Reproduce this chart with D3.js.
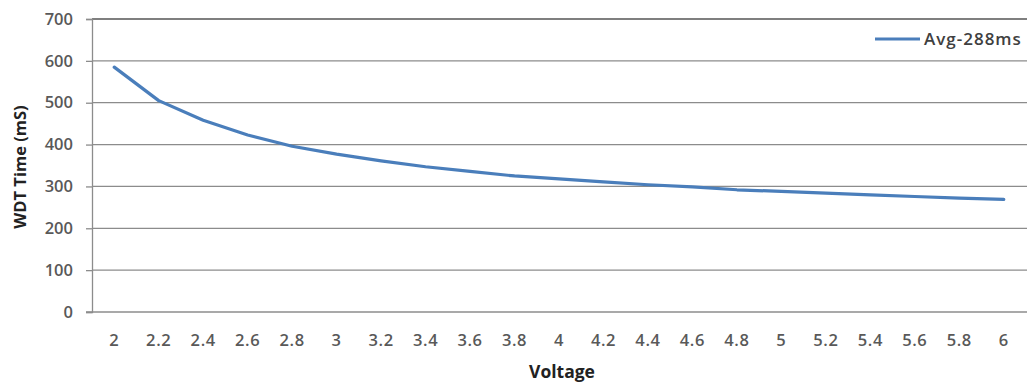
<!DOCTYPE html>
<html><head><meta charset="utf-8">
<script src="https://cdn.jsdelivr.net/npm/d3@7"></script>
<style>
html,body{margin:0;padding:0;background:#fff;}
svg{display:block;font-family:"Open Sans",sans-serif;}
</style></head><body>
<svg id="c" width="1027" height="383"></svg>
<script>
const categories = ["2","2.2","2.4","2.6","2.8","3","3.2","3.4","3.6","3.8","4","4.2","4.4","4.6","4.8","5","5.2","5.4","5.6","5.8","6"];
const avgValues = [585,505,458,423,396,377,361,347,336,325,318,311,304,299,292,288,284,280,276,272,269];
const yTicks = [0,100,200,300,400,500,600,700];
const seriesName = "Avg-288ms";
const xTitle = "Voltage";
const yTitle = "WDT Time (mS)";

const svg = d3.select("#c");
const plotLeft = 92, plotRight = 1026, plotTop = 19, plotBottom = 312;

const x = d3.scaleBand().domain(categories).range([plotLeft, plotRight]);
const y = d3.scaleLinear().domain([0, 700]).range([plotBottom, plotTop]);

// gridlines
svg.append("g").selectAll("line").data(yTicks.filter(d => d > 0)).join("line")
  .attr("x1", plotLeft).attr("x2", 1027)
  .attr("y1", d => y(d)).attr("y2", d => y(d))
  .attr("stroke", d => d === 700 ? "#7f7f7f" : "#8c8c8c").attr("stroke-width", d => d === 700 ? 1.8 : 1.3);

// y axis
const yAxis = svg.append("g").attr("transform", `translate(${plotLeft},0)`)
  .call(d3.axisLeft(y).tickValues(yTicks).tickSize(6).tickPadding(13));
yAxis.select(".domain").attr("stroke", "#8c8c8c").attr("stroke-width", 1.3);
yAxis.selectAll(".tick line").attr("stroke", "#8c8c8c").attr("stroke-width", 1.3);
yAxis.selectAll("text").attr("fill", "#595959").attr("font-size", 16.5).attr("font-weight", 600)
  .attr("font-family", "Open Sans");

// x axis
const xAxis = svg.append("g").attr("transform", `translate(0,${plotBottom})`)
  .call(d3.axisBottom(x).tickSize(0).tickPadding(22));
xAxis.select(".domain").attr("stroke", "#8c8c8c").attr("stroke-width", 1.3)
  .attr("d", `M${plotLeft - 6},0H1027`);
xAxis.selectAll("text").attr("fill", "#595959").attr("font-size", 16.5).attr("font-weight", 600)
  .attr("letter-spacing", 0.6).attr("font-family", "Open Sans");

// line
const line = d3.line().x((d, i) => x(categories[i]) + x.bandwidth() / 2).y(d => y(d));
svg.append("path").datum(avgValues).attr("d", line)
  .attr("fill", "none").attr("stroke", "#4a7ebb").attr("stroke-width", 3.2)
  .attr("stroke-linejoin", "round").attr("stroke-linecap", "round");

// legend
svg.append("line").attr("x1", 875).attr("x2", 920).attr("y1", 39).attr("y2", 39)
  .attr("stroke", "#4a7ebb").attr("stroke-width", 3.2);
svg.append("text").attr("x", 924).attr("y", 45).text(seriesName)
  .attr("fill", "#404040").attr("font-size", 17).attr("font-weight", 600).attr("letter-spacing", 1);

// titles
svg.append("text").attr("x", 562).attr("y", 378).attr("text-anchor", "middle")
  .attr("font-size", 17.5).attr("font-weight", 700).attr("fill", "#222").text(xTitle);
svg.append("text").attr("transform", "translate(26,167) rotate(-90)").attr("text-anchor", "middle")
  .attr("font-size", 16.5).attr("font-weight", 700).attr("fill", "#222").text(yTitle);
</script>
</body></html>
